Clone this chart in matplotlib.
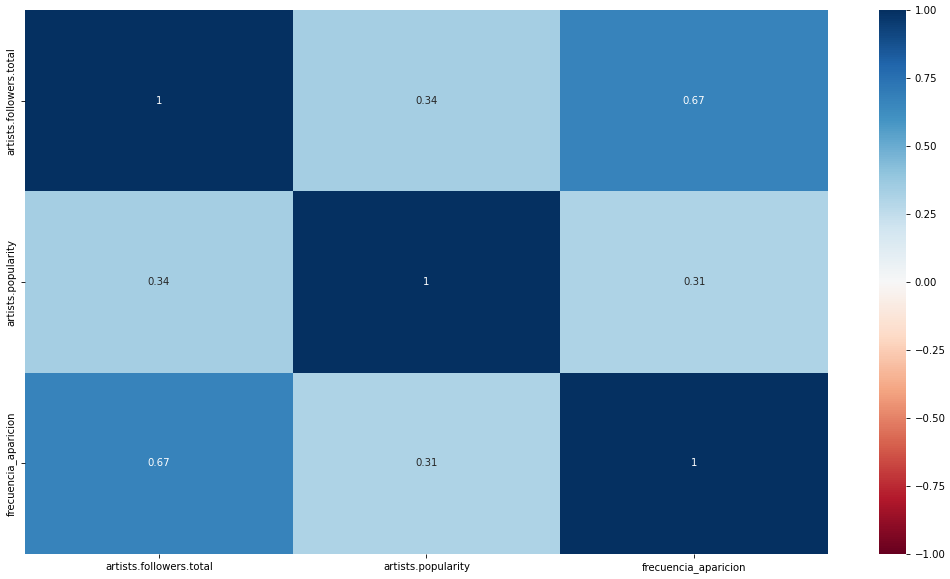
import numpy as np
import pandas as pd
import matplotlib
matplotlib.use('Agg')
import matplotlib.pyplot as plt
import seaborn as sns

# correlation matrix
columns = ['artists.followers.total', 'artists.popularity', 'frecuencia_aparicion']
corr_values = [
    [1.00, 0.34, 0.67],
    [0.34, 1.00, 0.31],
    [0.67, 0.31, 1.00],
]
corr = pd.DataFrame(corr_values, index=columns, columns=columns)

fs = 7.3
fig = plt.figure(figsize=(9.5, 5.79), dpi=100)
ax = fig.add_axes([25 / 950, 1 - 554 / 579, 803 / 950, 544 / 579])
cax = fig.add_axes([879 / 950, 1 - 554 / 579, 27 / 950, 544 / 579])

sns.heatmap(corr, annot=True, annot_kws={'fontsize': fs}, cmap='RdBu',
            vmin=-1, vmax=1, ax=ax, cbar_ax=cax)
ax.tick_params(axis='both', labelsize=fs, length=2.6, width=0.6)
cax.tick_params(labelsize=fs, length=2.6, width=0.6)

plt.savefig('out.png', dpi=100)
